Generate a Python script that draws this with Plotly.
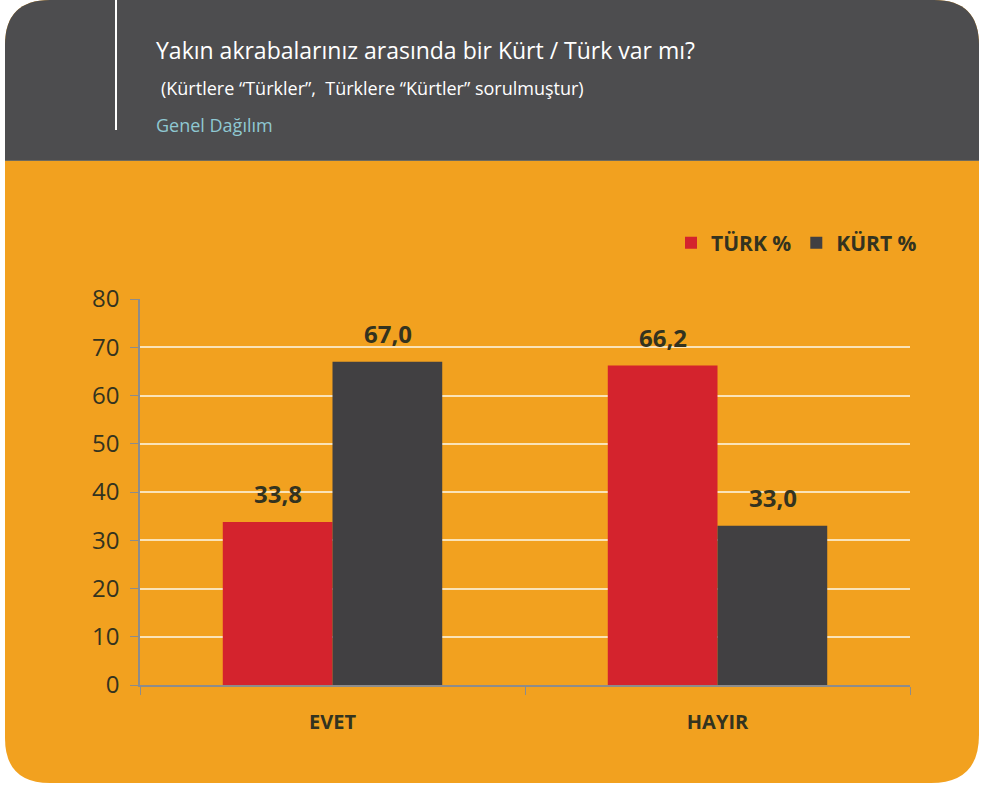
import plotly.graph_objects as go

categories = ["EVET", "HAYIR"]
turk_values = [33.8, 66.2]
kurt_values = [67.0, 33.0]
series_names = ["TÜRK %", "KÜRT %"]
y_ticks = [0, 10, 20, 30, 40, 50, 60, 70, 80]

W, H = 981, 787
L, R, T, B = 140, 71, 299, 102
PW, PH = W - L - R, H - T - B

def px(x):
    return (x - L) / PW

def py(y):
    return (H - B - y) / PH

ORANGE = "#F2A11F"
HEADER = "#4D4D4F"
RED = "#D4232D"
DARK = "#414042"
TXT = "#33331F"

fig = go.Figure()
fig.add_trace(go.Bar(x=categories, y=turk_values, name=series_names[0],
                     marker=dict(color=RED, line=dict(width=0))))
fig.add_trace(go.Bar(x=categories, y=kurt_values, name=series_names[1],
                     marker=dict(color=DARK, line=dict(width=0))))

def card_path(x0, y0, x1, y1, rtl, rtr, rbr, rbl):
    pts = []
    pts.append(f"M {px(x0)} {py(y0 + rtl)}")
    pts.append(f"Q {px(x0)} {py(y0)} {px(x0 + rtl)} {py(y0)}")
    pts.append(f"L {px(x1 - rtr)} {py(y0)}")
    pts.append(f"Q {px(x1)} {py(y0)} {px(x1)} {py(y0 + rtr)}")
    pts.append(f"L {px(x1)} {py(y1 - rbr)}")
    pts.append(f"Q {px(x1)} {py(y1)} {px(x1 - rbr)} {py(y1)}")
    pts.append(f"L {px(x0 + rbl)} {py(y1)}")
    pts.append(f"Q {px(x0)} {py(y1)} {px(x0)} {py(y1 - rbl)}")
    pts.append("Z")
    return " ".join(pts)

shapes = [
    dict(type="path", xref="paper", yref="paper", layer="below",
         path=card_path(5, 0, 979, 783, 45, 45, 48, 45),
         fillcolor=ORANGE, line=dict(width=0)),
    dict(type="path", xref="paper", yref="paper", layer="below",
         path=card_path(5, 0, 979, 160, 45, 45, 0, 0),
         fillcolor=HEADER, line=dict(width=0)),
    dict(type="line", xref="paper", yref="paper", layer="below",
         x0=px(5), x1=px(979), y0=py(160.5), y1=py(160.5),
         line=dict(color="#6E6A5E", width=1)),
    dict(type="line", xref="paper", yref="paper", layer="above",
         x0=px(116), x1=px(116), y0=py(0), y1=py(130),
         line=dict(color="white", width=2)),
]

annotations = [
    dict(text="Yakın akrabalarınız arasında bir Kürt / Türk var mı?", x=px(154), y=py(50),
         xref="paper", yref="paper", xanchor="left", yanchor="middle", showarrow=False,
         font=dict(size=23, color="white", family="Open Sans")),
    dict(text="(Kürtlere “Türkler”,  Türklere “Kürtler” sorulmuştur)", x=px(159), y=py(88),
         xref="paper", yref="paper", xanchor="left", yanchor="middle", showarrow=False,
         font=dict(size=18, color="white", family="Open Sans")),
    dict(text="Genel Dağılım", x=px(154), y=py(125),
         xref="paper", yref="paper", xanchor="left", yanchor="middle", showarrow=False,
         font=dict(size=18, color="#8FC8D2", family="Open Sans")),
]

# value labels above bars, placed through the data axes
for vals, shift in ((turk_values, -55), (kurt_values, 55)):
    for c, v in zip(categories, vals):
        annotations.append(dict(
            x=c, y=v, xref="x", yref="y", text=f"{v:.1f}".replace(".", ","),
            showarrow=False, xshift=shift, yanchor="bottom", yshift=10,
            font=dict(size=24, color=TXT, family="Open Sans", weight="bold")))

fig.update_layout(
    width=W, height=H,
    margin=dict(l=L, r=R, t=T, b=B, autoexpand=False),
    paper_bgcolor="white", plot_bgcolor="rgba(0,0,0,0)",
    barmode="group", bargap=0.43, bargroupgap=0,
    font=dict(family="Open Sans", color=TXT),
    shapes=shapes, annotations=annotations,
    legend=dict(orientation="h", x=px(922), y=py(243), xanchor="right", yanchor="middle",
                font=dict(size=21, color=TXT, family="Open Sans", weight="bold"),
                bgcolor="rgba(0,0,0,0)", itemwidth=30, traceorder="normal"),
    showlegend=True,
)
fig.update_xaxes(
    showline=True, linecolor="#8C8C8C", linewidth=1.5,
    ticks="outside", tickson="boundaries", ticklen=8, tickcolor="#8C8C8C",
    tickfont=dict(size=20, color=TXT, family="Open Sans", weight="bold"),
    showgrid=False, ticklabelstandoff=18,
)
fig.update_yaxes(
    range=[0, 80], tickvals=y_ticks, showline=True, linecolor="#8C8C8C", linewidth=1.5,
    ticks="outside", ticklen=8, tickcolor="#8C8C8C",
    tickfont=dict(size=24, color=TXT, family="Open Sans"),
    showgrid=True, gridcolor="#FAE3B8", gridwidth=1.5, zeroline=False,
    ticklabelstandoff=6,
)

fig.write_html("out.html", config={"displayModeBar": False})

with open("out.html", encoding="utf-8") as f:
    html = f.read()
html = html.replace("<head>", "<head><style>html,body{margin:0;padding:0;overflow:hidden;}</style>", 1)
with open("out.html", "w", encoding="utf-8") as f:
    f.write(html)
